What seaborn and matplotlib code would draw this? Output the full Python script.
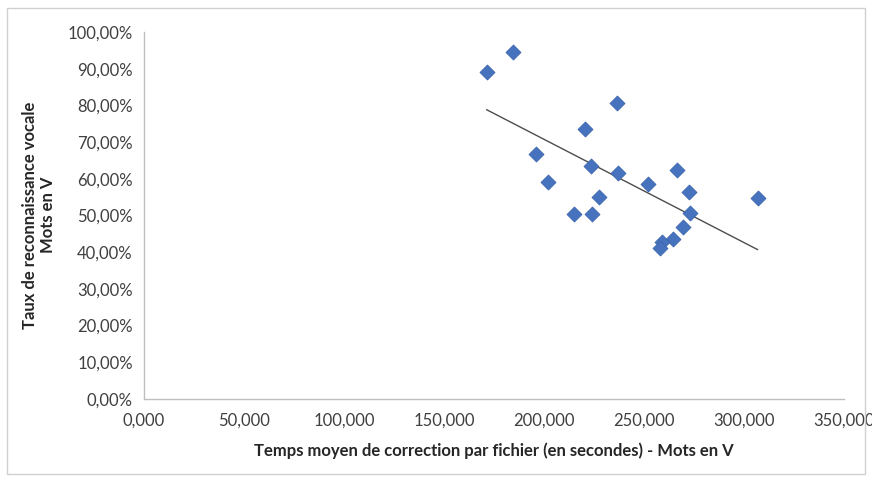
import matplotlib
matplotlib.use("Agg")
import matplotlib.pyplot as plt
from matplotlib.ticker import FuncFormatter, MultipleLocator
from matplotlib.patches import Rectangle
import numpy as np
import pandas as pd
import seaborn as sns

# Mean correction time per file (seconds) and voice-recognition rate, "Mots en V"
temps_correction = [171.3, 184.7, 236.3, 220.5, 196.0, 223.5, 237.2, 251.8, 266.3, 272.7,
                    201.8, 227.7, 215.2, 223.8, 273.0, 269.3, 264.3, 258.8, 258.0, 306.8]
taux_reconnaissance = [0.890, 0.946, 0.807, 0.736, 0.669, 0.635, 0.615, 0.585, 0.624, 0.564,
                       0.592, 0.551, 0.503, 0.503, 0.506, 0.470, 0.435, 0.429, 0.411, 0.547]

x_label = "Temps moyen de correction par fichier (en secondes) - Mots en V"
y_label = "Taux de reconnaissance vocale\nMots en V"

df = pd.DataFrame({"temps": temps_correction, "taux": taux_reconnaissance})

sns.set_style("white")
plt.rcParams["font.family"] = ["Lato", "DejaVu Sans"]

fig = plt.figure(figsize=(8.72, 4.8), dpi=100)
ax = fig.add_axes([0.165, 0.169, 0.803, 0.764])

sns.regplot(data=df, x="temps", y="taux", ax=ax, ci=None,
            marker="D",
            scatter_kws=dict(s=58, color="#4672BE", edgecolor="#3C66AE", linewidths=0.6,
                             alpha=1.0, zorder=3),
            line_kws=dict(color="#4d4d4d", linewidth=1.0, zorder=2))

ax.set_xlim(0, 350)
ax.set_ylim(0, 1.0)
ax.xaxis.set_major_locator(MultipleLocator(50))
ax.yaxis.set_major_locator(MultipleLocator(0.1))
ax.xaxis.set_major_formatter(FuncFormatter(lambda v, p: f"{v:.3f}".replace(".", ",")))
ax.yaxis.set_major_formatter(FuncFormatter(lambda v, p: f"{v*100:.2f}%".replace(".", ",")))

for side in ("top", "right"):
    ax.spines[side].set_visible(False)
for side in ("left", "bottom"):
    ax.spines[side].set_color("#BFBFBF")
    ax.spines[side].set_linewidth(1.0)

ax.tick_params(axis="both", which="major", labelsize=12, colors="#8C8C8C",
               labelcolor="#404040", length=4, width=0.8, direction="out")
ax.tick_params(axis="x", length=0, pad=10)
ax.tick_params(axis="y", pad=4)

ax.set_xlabel(x_label, fontsize=12, fontweight="bold", color="#262626", labelpad=10)
ax.set_ylabel("")
# Two-line vertical axis title, each line centred
fig.text(39 / 872, 1 - 215 / 480, y_label, rotation=90, ha="center", va="center",
         multialignment="center", fontsize=12, fontweight="bold", color="#262626",
         linespacing=1.15)

# Chart frame
fig.patches.append(Rectangle((0.008, 0.012), 0.984, 0.972, transform=fig.transFigure,
                             fill=False, edgecolor="#D0D0D0", linewidth=1.0))

fig.savefig("out.png", dpi=100)
